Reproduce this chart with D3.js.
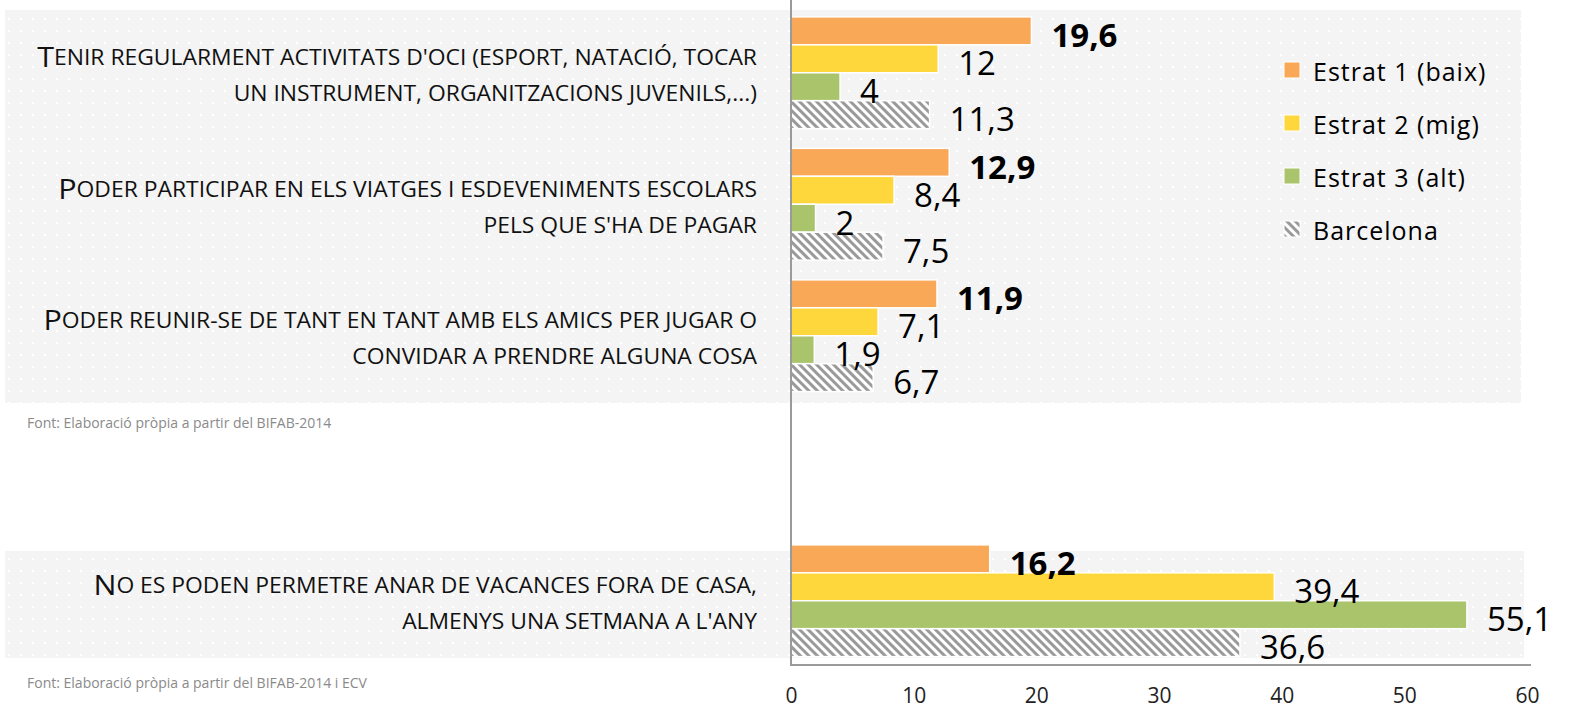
<!DOCTYPE html>
<html>
<head>
<meta charset="utf-8">
<script src="https://cdn.jsdelivr.net/npm/d3@7"></script>
<style>
  body { margin: 0; background: #fff; }
  svg text { font-family: "Open Sans", Lato, sans-serif; }
</style>
</head>
<body>
<div id="chart"></div>
<script>
// chart data
var topCategories = [
  ["Tenir regularment activitats d'oci (esport, natació, tocar", "un instrument, organitzacions juvenils,...)"],
  ["Poder participar en els viatges i esdeveniments escolars", "pels que s'ha de pagar"],
  ["Poder reunir-se de tant en tant amb els amics per jugar o", "convidar a prendre alguna cosa"]
];
var bottomCategories = [
  ["No es poden permetre anar de vacances fora de casa,", "almenys una setmana a l'any"]
];
var seriesNames = ["Estrat 1 (baix)", "Estrat 2 (mig)", "Estrat 3 (alt)", "Barcelona"];
var seriesColors = ["#f9a857", "#fed73c", "#a9c46b", "url(#hatch)"];

var topValues = [
  [19.6, 12, 4, 11.3],
  [12.9, 8.4, 2, 7.5],
  [11.9, 7.1, 1.9, 6.7]
];
var bottomValues = [
  [16.2, 39.4, 55.1, 36.6]
];
var xTicks = [0, 10, 20, 30, 40, 50, 60];
var sourceTop = "Font: Elaboració pròpia a partir del BIFAB-2014";
var sourceBottom = "Font: Elaboració pròpia a partir del BIFAB-2014 i ECV";

var svgWidth = 1571;
var svgHeight = 712;

var svg = d3.select("#chart")
  .append("svg")
    .attr("width", svgWidth)
    .attr("height", svgHeight);

// patterns: dotted panel background and hatch for Barcelona
var defs = svg.append("defs");
var dots = defs.append("pattern")
    .attr("id", "dots")
    .attr("patternUnits", "userSpaceOnUse")
    .attr("width", 12).attr("height", 12)
    .attr("x", 8).attr("y", 6);
dots.append("rect").attr("width", 12).attr("height", 12).attr("fill", "#f4f4f4");
dots.append("rect").attr("x", 0).attr("y", 0).attr("width", 2).attr("height", 2).attr("fill", "#fff");

var hatch = defs.append("pattern")
    .attr("id", "hatch")
    .attr("patternUnits", "userSpaceOnUse")
    .attr("width", 6).attr("height", 6)
    .attr("patternTransform", "rotate(-45)");
hatch.append("rect").attr("width", 6).attr("height", 6).attr("fill", "#fff");
hatch.append("rect").attr("width", 3).attr("height", 6).attr("fill", "#9a9a9a");

// background panels
svg.append("rect")
  .attr("x", 5).attr("y", 10).attr("width", 1516).attr("height", 393)
  .attr("fill", "url(#dots)");
svg.append("rect")
  .attr("x", 5).attr("y", 551).attr("width", 1519).attr("height", 107)
  .attr("fill", "url(#dots)");

// scales
var x = d3.scaleLinear().domain([0, 60]).range([791, 1527]);

var yTop = d3.scaleBand()
  .domain(d3.range(topCategories.length))
  .range([7, 401.5])
  .paddingInner(0.15).paddingOuter(0.075);

var yBottom = d3.scaleBand()
  .domain(d3.range(bottomCategories.length))
  .range([535, 666.5])
  .paddingInner(0.15).paddingOuter(0.075);

var ySeries = d3.scaleBand()
  .domain(d3.range(seriesNames.length))
  .range([0, yTop.bandwidth()]);

var labelG = svg.append("g");

function drawGroup(cats, values, yScale) {
  var groups = svg.selectAll(null).data(values)
    .enter().append("g")
      .attr("transform", (d, i) => `translate(0,${yScale(i)})`);

  groups.selectAll("rect").data(d => d)
    .enter().append("rect")
      .attr("x", x(0))
      .attr("y", (d, j) => ySeries(j))
      .attr("width", d => x(d) - x(0))
      .attr("height", ySeries.bandwidth())
      .attr("fill", (d, j) => seriesColors[j])
      .attr("stroke", "#fff")
      .attr("stroke-width", 1.5);

  groups.selectAll("text").data(d => d)
    .enter().append("text")
      .attr("x", d => x(d) + 20)
      .attr("y", (d, j) => ySeries(j) + ySeries.bandwidth() / 2 + 4)
      .attr("dominant-baseline", "central")
      .attr("font-size", 33)
      .attr("font-weight", (d, j) => j === 0 ? "bold" : "normal")
      .attr("fill", "#000")
      .text(d => String(d).replace(".", ","));

  // category labels (two lines, small caps built from tspans)
  cats.forEach((lines, i) => {
    var cy = yScale(i) + yScale.bandwidth() / 2 + 2;
    lines.forEach((line, k) => {
      var t = labelG.append("text")
        .attr("class", "cat")
        .attr("x", 757)
        .attr("y", cy + (k - 0.5) * 36)
        .attr("text-anchor", "end")
        .attr("dominant-baseline", "central")
        .attr("fill", "#111");
      if (k === 0) {
        t.append("tspan").attr("font-size", 28).text(line.charAt(0));
        t.append("tspan").attr("font-size", 21).text(line.slice(1).toUpperCase());
      } else {
        t.append("tspan").attr("font-size", 21).text(line.toUpperCase());
      }
    });
  });
}

drawGroup(topCategories, topValues, yTop);
drawGroup(bottomCategories, bottomValues, yBottom);

// squeeze category labels so the widest line fits the label area
var widest = d3.max(labelG.selectAll("text.cat").nodes(), n => n.getComputedTextLength());
var sx = 720 / widest;
labelG.selectAll("text.cat")
  .attr("transform", `translate(757,0) scale(${sx},1) translate(-757,0)`);

// axes lines
svg.append("line")
  .attr("x1", x(0)).attr("x2", x(0)).attr("y1", 0).attr("y2", 665)
  .attr("stroke", "#9a9a9a").attr("stroke-width", 2);
svg.append("line")
  .attr("x1", x(0) - 1).attr("x2", 1531).attr("y1", 665).attr("y2", 665)
  .attr("stroke", "#9a9a9a").attr("stroke-width", 2);

var bottomAxis = d3.axisBottom(x).tickValues(xTicks).tickSize(0).tickPadding(23);
var axisG = svg.append("g")
  .attr("transform", "translate(0,665)")
  .call(bottomAxis);
axisG.select(".domain").remove();
axisG.selectAll("text")
  .attr("font-size", 21)
  .attr("fill", "#222")
  .style("font-family", "'Open Sans', Lato, sans-serif");

// sources
svg.append("text")
  .attr("x", 27).attr("y", 428)
  .attr("font-size", 14).attr("fill", "#8a8a8a")
  .text(sourceTop);
svg.append("text")
  .attr("x", 27).attr("y", 688)
  .attr("font-size", 14).attr("fill", "#8a8a8a")
  .text(sourceBottom);

// legend
var legend = svg.append("g").attr("transform", "translate(1284,70)");
var legendItems = legend.selectAll("g").data(seriesNames)
  .enter().append("g")
    .attr("transform", (d, i) => `translate(0,${i * 53})`);
legendItems.append("rect")
  .attr("x", 0).attr("y", -8).attr("width", 16).attr("height", 16)
  .attr("fill", (d, i) => seriesColors[i])
  .attr("stroke", "#fff").attr("stroke-width", 1);
legendItems.append("text")
  .attr("x", 29).attr("y", 1)
  .attr("dominant-baseline", "central")
  .attr("font-size", 25)
  .attr("letter-spacing", 1)
  .attr("fill", "#000")
  .text(d => d);
</script>
</body>
</html>
